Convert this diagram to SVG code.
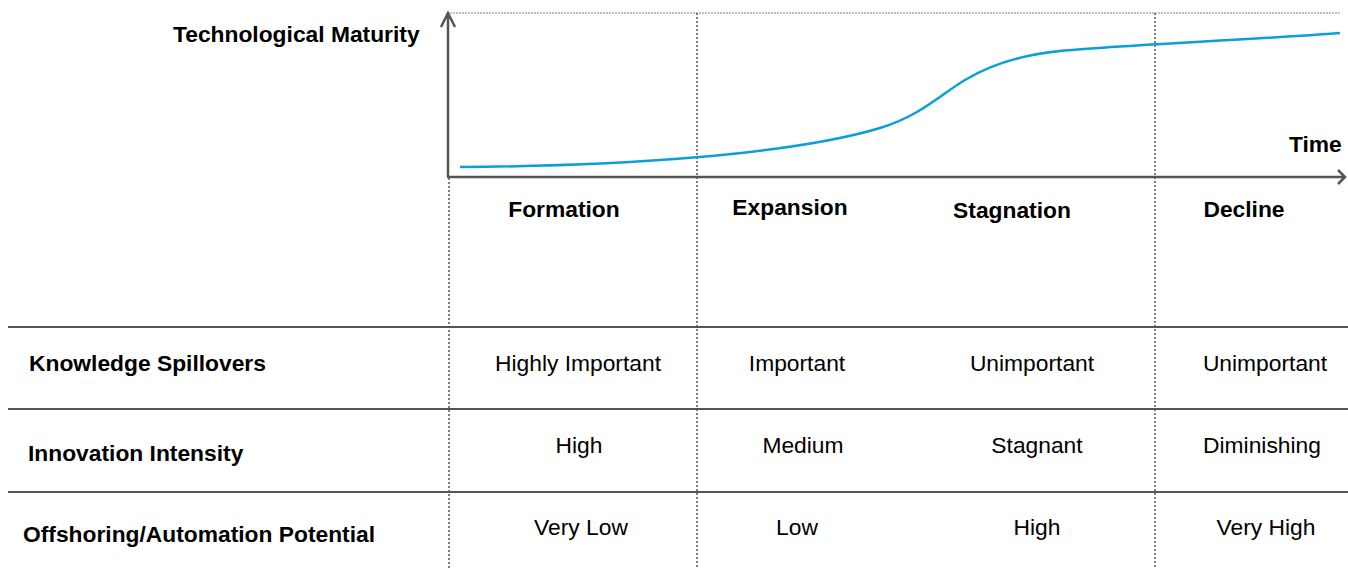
<svg xmlns="http://www.w3.org/2000/svg" width="1348" height="569" viewBox="0 0 1348 569">
<style>
.b{font-family:"Liberation Sans",Arial,sans-serif;font-weight:bold;font-size:22.8px;fill:#000}
.r{font-family:"Liberation Sans",Arial,sans-serif;font-size:22.8px;fill:#000}
.m{text-anchor:middle}
.dot{stroke:#555;stroke-width:1.5;stroke-dasharray:2 2;fill:none}
.axis{stroke:#555;stroke-width:2.5;fill:none}
.row{stroke:#555;stroke-width:2;fill:none}
</style>
<rect width="1348" height="569" fill="#fff"/>
<g id="grid">
<line x1="450" y1="13" x2="1341" y2="13" stroke="#aaa" stroke-width="1.5" stroke-dasharray="2 1"/>
<line class="dot" x1="449" y1="178" x2="449" y2="569"/>
<line class="dot" x1="697" y1="13" x2="697" y2="569"/>
<line class="dot" x1="1155" y1="13" x2="1155" y2="569"/>
<line class="row" x1="8" y1="327" x2="1348" y2="327"/>
<line class="row" x1="8" y1="409" x2="1348" y2="409"/>
<line class="row" x1="8" y1="492" x2="1348" y2="492"/>
</g>
<g id="axes">
<path class="axis" d="M448,177 V13 M441,27 L448,13 L455,27"/>
<path class="axis" d="M447,177 H1345 M1338,170 L1345,177 L1338,184"/>
</g>
<g id="curve">
<path d="M460,167 C620,166 790,155 880,128 C920,116 940,95 965,80 C990,65 1020,55 1060,51 C1120,45 1250,40 1340,33" fill="none" stroke="#0a9fd8" stroke-width="2.5"/>
</g>
<g id="axis-labels">
<text class="b" x="173" y="42">Technological Maturity</text>
<text class="b" x="1289" y="152">Time</text>
</g>
<g id="phases">
<text class="b m" x="564" y="217">Formation</text>
<text class="b m" x="790" y="215">Expansion</text>
<text class="b m" x="1012" y="218">Stagnation</text>
<text class="b m" x="1244" y="217">Decline</text>
</g>
<g id="row-knowledge">
<text class="b" x="29" y="371">Knowledge Spillovers</text>
<text class="r m" x="578" y="371">Highly Important</text>
<text class="r m" x="797" y="371">Important</text>
<text class="r m" x="1032" y="371">Unimportant</text>
<text class="r m" x="1265" y="371">Unimportant</text>
</g>
<g id="row-innovation">
<text class="b" x="28" y="461">Innovation Intensity</text>
<text class="r m" x="579" y="453">High</text>
<text class="r m" x="803" y="453">Medium</text>
<text class="r m" x="1037" y="453">Stagnant</text>
<text class="r m" x="1262" y="453">Diminishing</text>
</g>
<g id="row-offshoring">
<text class="b" x="23" y="542">Offshoring/Automation Potential</text>
<text class="r m" x="581" y="535">Very Low</text>
<text class="r m" x="797" y="535">Low</text>
<text class="r m" x="1037" y="535">High</text>
<text class="r m" x="1266" y="535">Very High</text>
</g>
</svg>
